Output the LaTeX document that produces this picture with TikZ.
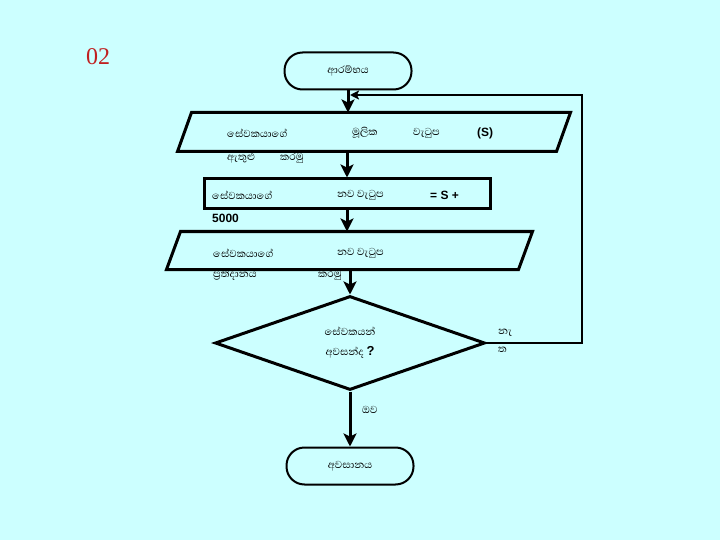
\documentclass[tikz,border=0pt]{standalone}
\usepackage{fontspec}
\setmainfont{Liberation Serif}
\newfontfamily\sinhfont[Script=Sinhala]{Abhaya Libre}
\newfontfamily\latinfont{Liberation Sans}
\usetikzlibrary{shapes.geometric, arrows.meta}
\definecolor{FCBack}{RGB}{204,255,255}
\definecolor{FCRed}{RGB}{192,32,32}
\tikzset{
  flowline/.style={black, line width=3pt},
  flowarrow/.style={flowline, -{Stealth[length=13pt,width=13pt,inset=3pt]}},
  loopline/.style={black, line width=2.5pt, -{Stealth[length=9pt,width=9pt,inset=2pt]}},
  termbox/.style={draw, line width=2pt, rounded corners=18pt, minimum width=127pt,
    minimum height=37pt, font=\sinhfont\fontsize{13}{15}\selectfont},
  iobody/.style={rectangle, inner sep=0pt, outer sep=1.5pt},
  ioedge/.style={draw, line width=3pt, line join=miter},
  procbox/.style={draw, line width=3pt, rectangle, minimum width=286pt, minimum height=30pt},
  testbox/.style={draw, line width=3pt, diamond, minimum width=270pt, minimum height=94pt,
    inner sep=0pt, align=center, font=\sinhfont\fontsize{13}{20}\selectfont},
  sitext/.style={inner sep=0pt, anchor=west, font=\sinhfont\fontsize{13}{15}\selectfont},
  latext/.style={inner sep=0pt, anchor=west, font=\latinfont\bfseries\fontsize{12}{14}\selectfont},
}
\begin{document}
\begin{tikzpicture}[x=1pt,y=-1pt]
  \path[use as bounding box] (0,0) rectangle (720,540);
  \fill[FCBack] (0,0) rectangle (720,540);

  \node[font=\fontsize{24}{26}\selectfont, text=FCRed] (slideno) at (98,57) {02};

  % shapes
  \node[termbox] (start) at (348,71) {ආරම්භය};
  \node[iobody, minimum width=376pt, minimum height=36pt] (input) at (374,132) {};
  \draw[ioedge] ([xshift=7pt]input.north west) -- ([xshift=7pt]input.north east)
    -- ([xshift=-7pt]input.south east) -- ([xshift=-7pt]input.south west) -- cycle;
  \node[procbox] (calc) at (347,194) {};
  \node[iobody, minimum width=349pt, minimum height=35pt] (output) at (349.5,250.5) {};
  \draw[ioedge] ([xshift=7pt]output.north west) -- ([xshift=7pt]output.north east)
    -- ([xshift=-7pt]output.south east) -- ([xshift=-7pt]output.south west) -- cycle;
  \node[testbox] (test) at (350,343) {සේවකයන්\\ අවසන්ද {\latinfont\bfseries ?}};
  \node[termbox] (stop) at (350,466) {අවසානය};

  % texts of the boxes
  \node[sitext] (inA) at (227,133) {සේවකයාගේ};
  \node[sitext] (inB) at (352,133) {මූලික};
  \node[sitext] (inC) at (413,133) {වැටුප};
  \node[latext] (inD) at (477,133) {(S)};
  \node[sitext] (inE) at (227,158) {ඇතුළු};
  \node[sitext] (inF) at (280,158) {කරමු};

  \node[sitext] (calcA) at (212,195) {සේවකයාගේ};
  \node[sitext] (calcB) at (337,195) {නව වැටුප};
  \node[latext] (calcC) at (430,195) {= S +};
  \node[latext] (calcD) at (212,218) {5000};

  \node[sitext] (outA) at (213,253) {සේවකයාගේ};
  \node[sitext] (outB) at (337,253) {නව වැටුප};
  \node[sitext] (outC) at (213,275) {ප්^^^^200dරතිදානය};
  \node[sitext] (outD) at (318,275) {කරමු};

  % connectors
  \draw[flowarrow] (start.south) -- (start.south |- input.north);
  \draw[flowarrow] (calc.north |- input.south) -- (calc.north);
  \draw[flowarrow] (calc.south) -- (calc.south |- output.north);
  \draw[flowarrow] (test.north |- output.south) -- (test.north);
  \draw[flowarrow] (test.south) -- (stop.north);
  \node[sitext] (yes) at (362,410) {ඔව};

  \coordinate (loopturn) at (582,95);
  \coordinate (backin) at (350,95);
  \draw[loopline] (test.east) -| (loopturn) -- (backin);
  \node[sitext, align=left, font=\sinhfont\fontsize{13}{18}\selectfont] (no) at (498,341) {නැ\\ත};
\end{tikzpicture}
\end{document}
